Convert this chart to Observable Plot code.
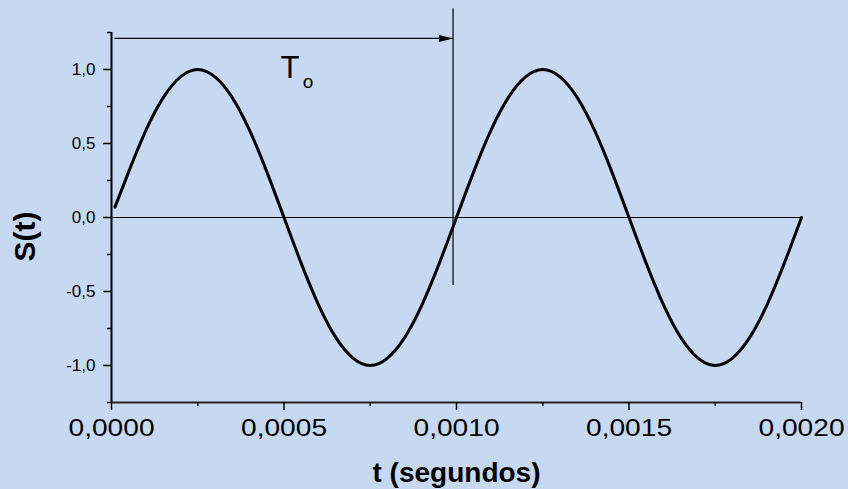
<!DOCTYPE html>
<html>
<head>
<meta charset="utf-8">
<script src="https://cdn.jsdelivr.net/npm/d3@7"></script>
<script src="https://cdn.jsdelivr.net/npm/@observablehq/plot@0.6"></script>
<style>
  html, body { margin: 0; padding: 0; background: #c6d9f0; }
  #chart { width: 848px; height: 489px; }
</style>
</head>
<body>
<div id="chart"></div>
<script>
// Sampled signal S(t), t in seconds
const time = [
  0.00001, 0.00005, 0.0001, 0.00015, 0.0002, 0.00025, 0.0003, 0.00035, 0.0004, 0.00045,
  0.0005, 0.00055, 0.0006, 0.00065, 0.0007, 0.00075, 0.0008, 0.00085, 0.0009, 0.00095,
  0.001, 0.00105, 0.0011, 0.00115, 0.0012, 0.00125, 0.0013, 0.00135, 0.0014, 0.00145,
  0.0015, 0.00155, 0.0016, 0.00165, 0.0017, 0.00175, 0.0018, 0.00185, 0.0019, 0.00195,
  0.002
];
const signal = [
  0.07, 0.31, 0.59, 0.81, 0.95, 1.00, 0.95, 0.81, 0.59, 0.31,
  0.00, -0.31, -0.59, -0.81, -0.95, -1.00, -0.95, -0.81, -0.59, -0.31,
  0.00, 0.31, 0.59, 0.81, 0.95, 1.00, 0.95, 0.81, 0.59, 0.31,
  0.00, -0.31, -0.59, -0.81, -0.95, -1.00, -0.95, -0.81, -0.59, -0.31,
  0.00
];

// Axis ticks
const xMajorTicks = [0, 0.0005, 0.001, 0.0015, 0.002];
const xMinorTicks = [0.00025, 0.00075, 0.00125, 0.00175];
const yMajorTicks = [-1, -0.5, 0, 0.5, 1];
const yMinorTicks = [-1.25, -0.75, -0.25, 0.25, 0.75, 1.25];
const xDomain = [0, 0.002];
const yDomain = [-1.25, 1.25];

// Period annotation (T_o)
const periodStart = 0.00001;
const periodEnd = 0.00099;
const arrowLevel = 1.21;
const markerTop = 1.41;
const markerBottom = -0.46;
const periodLabel = "T";
const periodSub = "o";

const xLabel = "t (segundos)";
const yLabel = "S(t)";

const points = time.map((t, i) => ({t, s: signal[i]}));
const fmtX = d => d3.format(".4f")(d).replace(".", ",");
const fmtY = d => d3.format(".1f")(d).replace(".", ",").replace("\u2212", "-");

// Filled, elongated arrowhead pointing right (tip at the anchor point)
const arrowHead = {
  draw(context) {
    context.moveTo(0, 0);
    context.lineTo(-14, -3.5);
    context.lineTo(-14, 3.5);
    context.closePath();
  }
};

const font = "'Liberation Sans', Arial, Helvetica, sans-serif";

const chart = Plot.plot({
  width: 848,
  height: 489,
  marginTop: 32,
  marginRight: 47,
  marginBottom: 87,
  marginLeft: 111,
  style: {background: "#c6d9f0", color: "black", fontFamily: font},
  x: {domain: xDomain},
  y: {domain: yDomain},
  marks: [
    // zero line and period marker
    Plot.ruleY([0], {stroke: "black", strokeWidth: 1}),
    Plot.ruleX([periodEnd], {y1: markerBottom, y2: markerTop, stroke: "black", strokeWidth: 1.2}),
    Plot.ruleY([arrowLevel], {x1: periodStart, x2: periodEnd, stroke: "black", strokeWidth: 1.2}),
    Plot.dot([{x: periodEnd, y: arrowLevel}], {x: "x", y: "y", symbol: arrowHead, fill: "black", stroke: null, r: 5}),
    Plot.text([{x: (periodStart + periodEnd) / 2, y: arrowLevel}], {
      x: "x", y: "y", text: () => periodLabel, dx: 6, dy: 39.4,
      lineAnchor: "bottom", textAnchor: "middle", fontSize: 31, fill: "black", ariaLabel: "period label"
    }),
    Plot.text([{x: (periodStart + periodEnd) / 2, y: arrowLevel}], {
      x: "x", y: "y", text: () => periodSub, dx: 24, dy: 49.4,
      lineAnchor: "bottom", textAnchor: "middle", fontSize: 19, fill: "black"
    }),
    // signal
    Plot.line(points, {x: "t", y: "s", stroke: "black", strokeWidth: 3, curve: "natural"}),
    // axis lines
    Plot.ruleX([xDomain[0]], {stroke: "black", strokeWidth: 2}),
    Plot.ruleY([yDomain[0]], {stroke: "#222", strokeWidth: 2}),
    // ticks
    Plot.axisX(xMajorTicks, {tickSize: 8, tickPadding: 8, tickFormat: fmtX, fontSize: 24, strokeWidth: 1.5, label: null}),
    Plot.axisX(xMinorTicks, {tickSize: 4, tickFormat: () => "", strokeWidth: 1.5, label: null}),
    Plot.axisY(yMajorTicks, {tickSize: 8, tickPadding: 8, tickFormat: fmtY, fontSize: 17, strokeWidth: 1.5, label: null}),
    Plot.axisY(yMinorTicks, {tickSize: 4, tickFormat: () => "", strokeWidth: 1.5, label: null}),
    // axis titles
    Plot.text([xLabel], {
      frameAnchor: "bottom", dy: 79, lineAnchor: "bottom", textAnchor: "middle",
      fontSize: 28, fontWeight: "bold", fill: "black", ariaLabel: "x title"
    }),
    Plot.text([yLabel], {
      frameAnchor: "left", dx: -86.6, dy: 19, rotate: -90, lineAnchor: "middle", textAnchor: "middle",
      fontSize: 30, fontWeight: "bold", fill: "black", ariaLabel: "y title"
    })
  ]
});

document.getElementById("chart").appendChild(chart);

// Widen the horizontal texts to their drawn widths
const svg = d3.select(chart);
svg.selectAll('g[aria-label="x-axis tick label"] text')
  .filter(function () { return this.textContent.length > 0; })
  .attr("textLength", 86).attr("lengthAdjust", "spacingAndGlyphs");
svg.selectAll('g[aria-label="x title"] text')
  .attr("textLength", 212).attr("lengthAdjust", "spacingAndGlyphs");
svg.selectAll('g[aria-label="period label"] text')
  .attr("textLength", 22).attr("lengthAdjust", "spacingAndGlyphs");
</script>
</body>
</html>
